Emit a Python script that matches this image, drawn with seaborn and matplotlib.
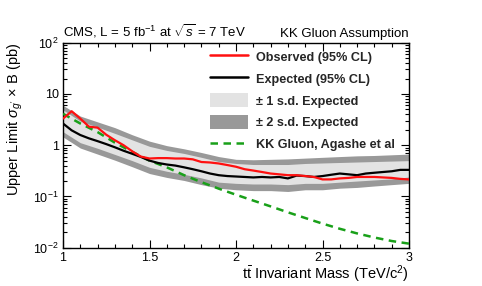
import numpy as np
import pandas as pd
import matplotlib
matplotlib.use("Agg")
import matplotlib.pyplot as plt
import seaborn as sns
from matplotlib.lines import Line2D
from matplotlib.patches import Patch
from matplotlib.ticker import MultipleLocator, FixedLocator, NullFormatter

# ---------------- data ----------------
mass_fine = [1.00, 1.05, 1.10, 1.15, 1.20, 1.25, 1.30, 1.35, 1.40, 1.45, 1.50,
             1.55, 1.60, 1.65, 1.70, 1.75, 1.80, 1.85, 1.90, 1.95, 2.00,
             2.05, 2.10, 2.15, 2.20, 2.25, 2.30, 2.35, 2.40, 2.45, 2.50,
             2.55, 2.60, 2.65, 2.70, 2.75, 2.80, 2.85, 2.90, 2.95, 3.00]
observed = [3.3, 4.6, 3.3, 2.3, 2.2, 1.6, 1.25, 1.0, 0.76, 0.60, 0.55,
            0.56, 0.56, 0.55, 0.55, 0.53, 0.47, 0.46, 0.44, 0.41, 0.38,
            0.34, 0.32, 0.30, 0.28, 0.27, 0.26, 0.26, 0.25, 0.24, 0.215,
            0.215, 0.225, 0.23, 0.24, 0.24, 0.24, 0.235, 0.23, 0.22, 0.215]
expected = [2.65, 1.95, 1.58, 1.36, 1.20, 1.05, 0.91, 0.78, 0.68, 0.59, 0.50,
            0.45, 0.42, 0.40, 0.37, 0.34, 0.31, 0.28, 0.26, 0.25, 0.245,
            0.24, 0.235, 0.24, 0.235, 0.24, 0.225, 0.255, 0.25, 0.24, 0.25,
            0.265, 0.28, 0.27, 0.26, 0.28, 0.29, 0.30, 0.31, 0.33, 0.33]

mass_band = [1.0, 1.1, 1.2, 1.3, 1.4, 1.5, 1.6, 1.7, 1.8, 1.9, 2.0,
             2.1, 2.2, 2.3, 2.4, 2.5, 2.6, 2.7, 2.8, 2.9, 3.0]
band2_up = [6.0, 3.7, 2.85, 2.2, 1.6, 1.2, 0.98, 0.85, 0.72, 0.60, 0.53,
            0.52, 0.53, 0.54, 0.56, 0.58, 0.60, 0.62, 0.63, 0.65, 0.67]
band1_up = [4.9, 2.95, 2.25, 1.7, 1.27, 0.95, 0.79, 0.69, 0.58, 0.48, 0.44,
            0.42, 0.42, 0.42, 0.44, 0.45, 0.46, 0.47, 0.48, 0.49, 0.50]
band1_lo = [1.83, 1.12, 0.87, 0.66, 0.50, 0.37, 0.31, 0.27, 0.23, 0.19, 0.18,
            0.175, 0.175, 0.17, 0.18, 0.18, 0.19, 0.20, 0.21, 0.22, 0.24]
band2_lo = [1.45, 0.88, 0.67, 0.51, 0.38, 0.28, 0.235, 0.205, 0.17, 0.145, 0.135,
            0.13, 0.13, 0.125, 0.135, 0.135, 0.145, 0.15, 0.16, 0.17, 0.18]

mass_kk = [1.0, 1.1, 1.2, 1.3, 1.4, 1.5, 1.6, 1.7, 1.8, 1.9, 2.0,
           2.1, 2.2, 2.3, 2.4, 2.5, 2.6, 2.7, 2.8, 2.9, 3.0]
kk_gluon = [4.1, 2.65, 1.8, 1.12, 0.74, 0.50, 0.37, 0.26, 0.19, 0.142, 0.108,
            0.083, 0.064, 0.049, 0.038, 0.0295, 0.0234, 0.019, 0.0158, 0.0135, 0.012]

xticks = [1, 1.5, 2, 2.5, 3]
xtick_labels = ["1", "1.5", "2", "2.5", "3"]
yticks = [1e-2, 1e-1, 1, 10, 1e2]
ytick_labels = ["10$^{-2}$", "10$^{-1}$", "1", "10", "10$^{2}$"]

# ---------------- style ----------------
sns.set_theme(style="ticks")
plt.rcParams["font.family"] = ["Liberation Sans", "DejaVu Sans"]
plt.rcParams["mathtext.fontset"] = "custom"
plt.rcParams["mathtext.rm"] = "Liberation Sans"
plt.rcParams["mathtext.it"] = "Liberation Sans:italic"
plt.rcParams["mathtext.bf"] = "Liberation Sans:bold"

fig = plt.figure(figsize=(4.82, 2.86), dpi=100)
ax = fig.add_axes([63 / 482, 1 - 247.7 / 286, 346 / 482, 205 / 286])

c_light = "#e3e3e3"
c_dark = "#999999"
c_green = "#19a019"

ax.fill_between(mass_band, band2_lo, band2_up, color=c_dark, lw=0, zorder=1)
ax.fill_between(mass_band, band1_lo, band1_up, color=c_light, lw=0, zorder=2)

df_fine = pd.DataFrame({"mass": mass_fine, "obs": observed, "exp": expected})
df_kk = pd.DataFrame({"mass": mass_kk, "kk": kk_gluon})

sns.lineplot(data=df_fine, x="mass", y="exp", ax=ax, color="black", lw=1.6, zorder=4)
sns.lineplot(data=df_kk, x="mass", y="kk", ax=ax, color=c_green, lw=1.8,
             dashes=False, zorder=3).lines[-1].set_dashes([3, 2.2])
sns.lineplot(data=df_fine, x="mass", y="obs", ax=ax, color="#ff1010", lw=1.6, zorder=5)

ax.set_yscale("log")
ax.set_xlim(1, 3)
ax.set_ylim(1e-2, 1e2)

ax.set_xticks(xticks)
ax.set_xticklabels(xtick_labels)
ax.xaxis.set_minor_locator(MultipleLocator(0.1))
ax.set_yticks(yticks)
ax.set_yticklabels(ytick_labels)
minors = [m * 10.0 ** e for e in range(-2, 2) for m in range(2, 10)]
ax.yaxis.set_minor_locator(FixedLocator(minors))
ax.yaxis.set_minor_formatter(NullFormatter())

ax.tick_params(axis="both", which="both", direction="in", top=True, right=True,
               labelsize=9, colors="black", width=0.8)
ax.tick_params(axis="both", which="major", length=6, pad=3)
ax.tick_params(axis="both", which="minor", length=3)
for s in ax.spines.values():
    s.set_color("black")
    s.set_linewidth(1.0)

ax.set_xlabel(r"t$\bar{\mathrm{t}}$ Invariant Mass (TeV/c$^{2}$)", fontsize=10.5,
              ha="right", x=1.0, labelpad=0, color="black")
ax.set_ylabel(r"Upper Limit $\sigma_{g'}$ $\times$ B (pb)", fontsize=10.5,
              ha="right", y=1.0, labelpad=6, color="black")

ax.text(0.0, 1.012, r"CMS, L = 5 fb$^{-1}$ at $\sqrt{s}$ = 7 TeV", transform=ax.transAxes,
        ha="left", va="bottom", fontsize=9.5, color="black")
ax.text(1.0, 1.012, "KK Gluon Assumption", transform=ax.transAxes,
        ha="right", va="bottom", fontsize=9.5, color="black")

handles = [
    Line2D([], [], color="#ff1010", lw=1.8),
    Line2D([], [], color="black", lw=1.8),
    Patch(facecolor=c_light, edgecolor="none"),
    Patch(facecolor=c_dark, edgecolor="none"),
    Line2D([], [], color=c_green, lw=1.8, dashes=[3, 2.2]),
]
labels = ["Observed (95% CL)", "Expected (95% CL)", "± 1 s.d. Expected",
          "± 2 s.d. Expected", "KK Gluon, Agashe et al"]
leg = ax.legend(handles, labels, loc="upper left", bbox_to_anchor=(0.425, 0.967),
                frameon=False, prop={"weight": "bold", "size": 9.1},
                handlelength=3.0, handleheight=1.3, handletextpad=0.6,
                labelspacing=0.62, borderpad=0, borderaxespad=0)
leg.set_zorder(10)

fig.savefig("out.png", dpi=100)
